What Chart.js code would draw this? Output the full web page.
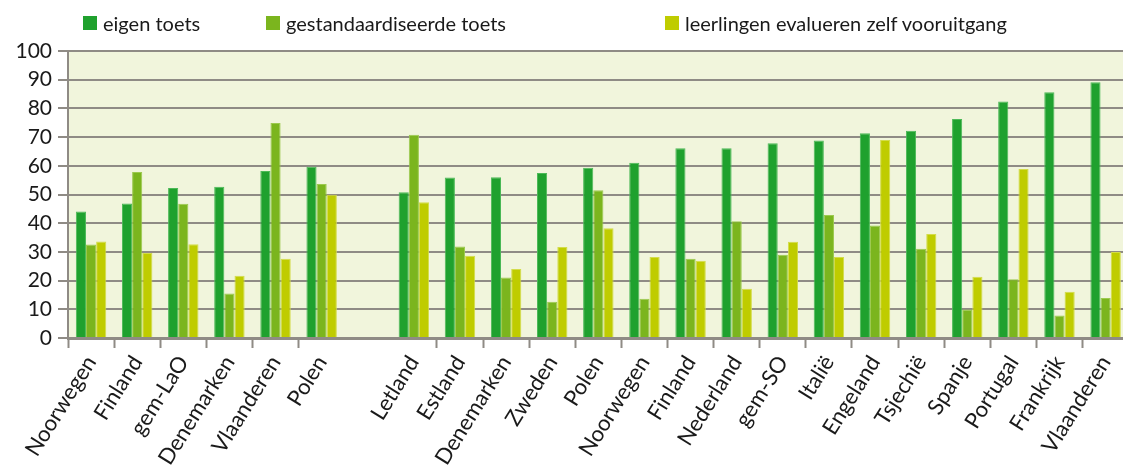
<!DOCTYPE html>
<html>
<head>
<meta charset="utf-8">
<script src="https://cdn.jsdelivr.net/npm/chart.js@4"></script>
<style>
  html, body { margin: 0; padding: 0; background: #fff; overflow: hidden; }
  #chart-container { position: relative; width: 1131px; height: 470px; }
  #legend { position: absolute; top: 0; left: 0; width: 1123px; height: 46px; font-family: Lato, "Open Sans", sans-serif; font-size: 20px; color: #1a1a1a; }
  .legend-item { position: absolute; top: 11px; display: flex; align-items: center; white-space: nowrap; line-height: 24px; }
  .legend-box { width: 14px; height: 14px; margin-right: 6px; }
</style>
</head>
<body>
<div id="chart-container">
  <canvas id="toetsChart"></canvas>
  <div id="legend"></div>
</div>
<script>
// Categories: first block (6), one empty slot, second block (16)
var categories = ['Noorwegen', 'Finland', 'gem-LaO', 'Denemarken', 'Vlaanderen', 'Polen', '',
  'Letland', 'Estland', 'Denemarken', 'Zweden', 'Polen', 'Noorwegen', 'Finland', 'Nederland',
  'gem-SO', 'Italië', 'Engeland', 'Tsjechië', 'Spanje', 'Portugal', 'Frankrijk', 'Vlaanderen'];

var eigenToets = [44.1, 46.9, 52.3, 52.7, 58.2, 59.7, null,
  50.8, 55.9, 56.0, 57.5, 59.3, 61.1, 66.1, 66.1, 67.9, 68.8, 71.3, 72.2, 76.3, 82.4, 85.6, 89.1];
var gestandaardiseerdeToets = [32.6, 57.8, 46.8, 15.5, 74.9, 53.7, null,
  70.8, 31.9, 21.1, 12.6, 51.5, 13.7, 27.6, 40.7, 29.0, 42.9, 39.2, 31.1, 9.9, 20.5, 7.8, 13.9];
var zelfVooruitgang = [33.6, 29.6, 32.7, 21.7, 27.6, 49.9, null,
  47.3, 28.7, 24.0, 31.7, 38.2, 28.2, 26.9, 17.2, 33.5, 28.2, 69.0, 36.2, 21.3, 58.9, 16.1, 30.0];

var seriesLabels = ['eigen toets', 'gestandaardiseerde toets', 'leerlingen evalueren zelf vooruitgang'];
var seriesColors = ['#1fa12e', '#7bb51e', '#bfcc00'];
var seriesBorders = ['#4cb957', '#9cc94e', '#d3dc4a'];

var gridGrey = '#8f8b85';
var fontFamily = 'Lato, "Open Sans", sans-serif';

// Pale background behind the plot area
var plotBackground = {
  id: 'plotBackground',
  beforeDraw: function (chart) {
    var a = chart.chartArea;
    var ctx = chart.ctx;
    ctx.save();
    ctx.fillStyle = '#f1f5dc';
    ctx.fillRect(a.left, a.top, a.right - a.left, a.bottom - a.top);
    ctx.restore();
  }
};

var ctx = document.getElementById('toetsChart').getContext('2d');
window.toetsChart = new Chart(ctx, {
  type: 'bar',
  data: {
    labels: categories,
    datasets: [eigenToets, gestandaardiseerdeToets, zelfVooruitgang].map(function (values, i) {
      return {
        label: seriesLabels[i],
        data: values,
        backgroundColor: seriesColors[i],
        borderColor: seriesBorders[i],
        borderWidth: 1
      };
    })
  },
  options: {
    responsive: true,
    maintainAspectRatio: false,
    animation: false,
    datasets: {
      bar: { categoryPercentage: 0.66, barPercentage: 1.0 }
    },
    layout: { padding: { top: 51, left: 0, right: 0, bottom: 0 } },
    plugins: {
      legend: { display: false },
      tooltip: { enabled: false }
    },
    scales: {
      x: {
        grid: {
          offset: true,
          drawOnChartArea: false,
          drawTicks: true,
          tickLength: 10,
          tickWidth: 2,
          tickColor: function (context) {
            // no tick marks around the empty slot
            return (context.index === 6 || context.index === 7) ? 'rgba(0,0,0,0)' : gridGrey;
          }
        },
        border: { color: gridGrey, width: 3 },
        ticks: {
          minRotation: 58,
          maxRotation: 58,
          autoSkip: false,
          color: '#1a1a1a',
          font: { family: fontFamily, size: 22 }
        },
        afterFit: function (scale) { scale.height = 132; }
      },
      y: {
        min: 0,
        max: 100,
        ticks: {
          stepSize: 10,
          padding: 6,
          color: '#1a1a1a',
          font: { family: fontFamily, size: 21 }
        },
        grid: {
          color: gridGrey,
          lineWidth: 2,
          drawTicks: true,
          tickLength: 10
        },
        border: { color: gridGrey, width: 2 },
        afterFit: function (scale) { scale.width = 68; }
      }
    }
  },
  plugins: [plotBackground]
});

// HTML legend built from the chart's own datasets
var legendLeft = [83, 266, 665];
var legendEl = document.getElementById('legend');
window.toetsChart.data.datasets.forEach(function (ds, i) {
  var item = document.createElement('div');
  item.className = 'legend-item';
  item.style.left = legendLeft[i] + 'px';
  var box = document.createElement('span');
  box.className = 'legend-box';
  box.style.background = ds.backgroundColor;
  var text = document.createElement('span');
  text.textContent = ds.label;
  item.appendChild(box);
  item.appendChild(text);
  legendEl.appendChild(item);
});
</script>
</body>
</html>
